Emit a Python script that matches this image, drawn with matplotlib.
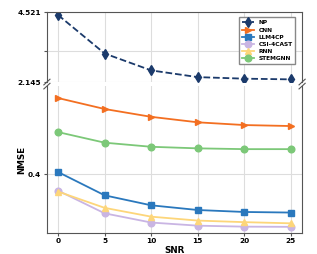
import matplotlib
matplotlib.use("Agg")
import matplotlib.pyplot as plt

snr = [0, 5, 10, 15, 20, 25]
np_vals = [4.433, 3.119, 2.542, 2.313, 2.260, 2.236]
cnn = [0.789, 0.733, 0.693, 0.665, 0.651, 0.646]
llm4cp = [0.411, 0.292, 0.241, 0.217, 0.207, 0.204]
csi4cast = [0.316, 0.200, 0.153, 0.137, 0.132, 0.131]
rnn = [0.311, 0.228, 0.183, 0.163, 0.155, 0.149]
stemgnn = [0.615, 0.561, 0.540, 0.532, 0.528, 0.528]

fig = plt.figure(figsize=(3.17, 2.54), dpi=100)
ax_top = fig.add_axes([0.148, 0.677, 0.805, 0.274])
ax_bot = fig.add_axes([0.148, 0.083, 0.805, 0.578])

spine_c = "#555555"
grid_c = "#dddddd"

series = [
    ("NP", np_vals, "#1b3a6b", "d", "--"),
    ("CNN", cnn, "#f36f21", ">", "-"),
    ("LLM4CP", llm4cp, "#2a78bd", "s", "-"),
    ("CSI-4CAST", csi4cast, "#c9b5e3", "o", "-"),
    ("RNN", rnn, "#fdd67a", "^", "-"),
    ("STEMGNN", stemgnn, "#7cc878", "o", "-"),
]

handles = []
for name, vals, c, m, ls in series:
    for ax in (ax_top, ax_bot):
        h, = ax.plot(snr, vals, color=c, marker=m, linestyle=ls, lw=1.3,
                     markersize=4.8, label=name)
    handles.append(h)

ax_top.set_ylim(2.145, 4.521)
ax_top.set_yticks([2.145, 3.2, 4.521])
ax_top.set_yticklabels(["2.145", "", "4.521"])
ax_bot.set_ylim(0.1, 0.85)
ax_bot.set_yticks([0.4])
ax_bot.set_yticklabels(["0.4"])

for ax in (ax_top, ax_bot):
    ax.set_xlim(-1.2, 26.2)
    ax.set_xticks(snr)
    ax.grid(True, color=grid_c, lw=0.8)
    ax.set_axisbelow(True)
    for s in ax.spines.values():
        s.set_color(spine_c)
    ax.tick_params(colors="black", labelsize=5.3, length=2.5, width=0.8,
                   color=spine_c, pad=1.5)
    for lab in ax.get_xticklabels() + ax.get_yticklabels():
        lab.set_fontweight("bold")

ax_top.spines["bottom"].set_visible(False)
ax_bot.spines["top"].set_visible(False)
ax_top.tick_params(axis="x", bottom=False, labelbottom=False)

ax_bot.set_xlabel("SNR", fontsize=6.3, fontweight="bold", labelpad=1)
ax_bot.set_ylabel("NMSE", fontsize=6.3, fontweight="bold", labelpad=1.5)

# break marks
d = 0.012
kw = dict(color=spine_c, clip_on=False, lw=0.8)
ax_top.plot((-d, +d), (-d * 3.4, +d * 3.4), transform=ax_top.transAxes, **kw)
ax_top.plot((1 - d, 1 + d), (-d * 3.4, +d * 3.4), transform=ax_top.transAxes, **kw)
ax_bot.plot((-d, +d), (1 - d * 1.6, 1 + d * 1.6), transform=ax_bot.transAxes, **kw)
ax_bot.plot((1 - d, 1 + d), (1 - d * 1.6, 1 + d * 1.6), transform=ax_bot.transAxes, **kw)

leg = ax_top.legend(handles=handles, loc="upper right",
                    prop={"weight": "bold", "size": 4.2}, frameon=True,
                    fancybox=False, edgecolor="#888888", framealpha=1,
                    handlelength=2.0, labelspacing=0.35, borderpad=0.5,
                    bbox_to_anchor=(0.985, 0.97))

fig.savefig("out.png", dpi=100)
